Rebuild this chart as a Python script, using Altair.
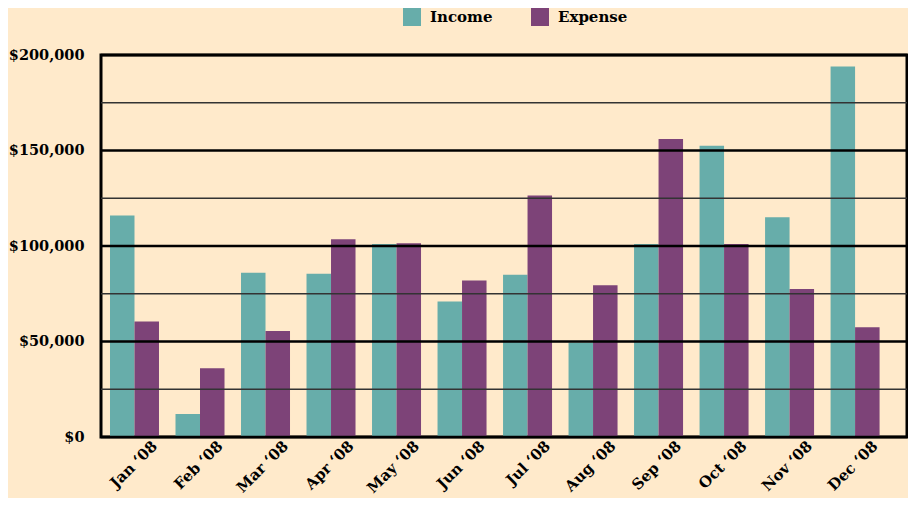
import altair as alt
import pandas as pd

months = ["Jan ‘08", "Feb ‘08", "Mar ‘08", "Apr ‘08", "May ‘08", "Jun ‘08",
          "Jul ‘08", "Aug ‘08", "Sep ‘08", "Oct ‘08", "Nov ‘08", "Dec ‘08"]
income = [116000, 12000, 86000, 85500, 101000, 71000, 85000, 49500, 101000, 152500, 115000, 194000]
expense = [60500, 36000, 55500, 103500, 101500, 82000, 126500, 79500, 156000, 101000, 77500, 57500]
series = ["Income", "Expense"]
colors = ["#67ADAA", "#7D4378"]
major_ticks = [0, 50000, 100000, 150000, 200000]
minor_ticks = [25000, 75000, 125000, 175000]

rows = []
for m, i, e in zip(months, income, expense):
    rows.append({"month": m, "series": "Income", "value": i})
    rows.append({"month": m, "series": "Expense", "value": e})
df = pd.DataFrame(rows)

font = "DejaVu Serif"
yscale = alt.Scale(domain=[0, 200000], nice=False)

bars = alt.Chart(df).mark_bar().encode(
    x=alt.X("month:N", sort=months,
            scale=alt.Scale(paddingInner=0.252, paddingOuter=0.278, align=0.247),
            axis=alt.Axis(title=None, labelAngle=-45, labelAlign="right", labelBaseline="middle",
                          ticks=False, domain=False, labelOffset=20, labelPadding=6,
                          labelFont=font, labelFontWeight="bold", labelFontSize=15, labelColor="black")),
    xOffset=alt.XOffset("series:N", sort=series, scale=alt.Scale(paddingInner=0, paddingOuter=0)),
    y=alt.Y("value:Q", scale=yscale,
            axis=alt.Axis(title=None, values=major_ticks, format="$,.0f", grid=False, domain=False,
                          ticks=False, labelPadding=17, labelFont=font, labelFontWeight="bold",
                          labelFontSize=14.5, labelColor="black")),
    color=alt.Color("series:N", sort=series,
                    scale=alt.Scale(domain=series, range=colors),
                    legend=alt.Legend(title=None, orient="none", legendX=302, legendY=-47,
                                      direction="horizontal", symbolType="square", symbolSize=324,
                                      symbolStrokeWidth=0, symbolOpacity=1, labelFont=font,
                                      labelFontWeight="bold", labelFontSize=15, labelColor="black",
                                      columnPadding=38, labelOffset=9)),
)

minor = alt.Chart(pd.DataFrame({"v": minor_ticks})).mark_rule(color="#333333", strokeWidth=1.5).encode(
    y=alt.Y("v:Q", scale=yscale, title=None))
major = alt.Chart(pd.DataFrame({"v": major_ticks})).mark_rule(color="black", strokeWidth=2.5).encode(
    y=alt.Y("v:Q", scale=yscale, title=None))

chart = alt.layer(bars, minor, major).properties(
    width=806, height=382, background="#FFEACB",
    padding={"left": 93, "top": 47, "right": 1, "bottom": 61},
    autosize=alt.AutoSizeParams(type="none"),
).configure_view(stroke="black", strokeWidth=3)

chart.save("out.html", embed_options={"renderer": "svg", "actions": False})
